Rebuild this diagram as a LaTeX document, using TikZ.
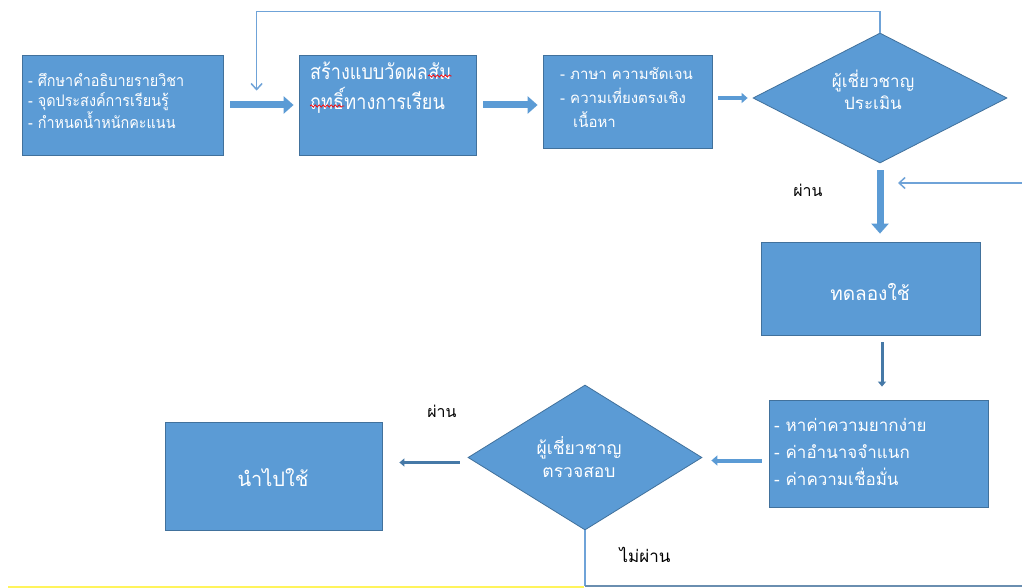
\documentclass[tikz,border=0pt]{standalone}
\usepackage{fontspec}
\newfontfamily\thai[Script=Thai]{Loma}
\newfontfamily\thainarrow[Script=Thai,FakeStretch=0.86]{Loma}
\newfontfamily\thaimid[Script=Thai,FakeStretch=0.9]{Loma}
\usetikzlibrary{shapes.geometric,arrows.meta,decorations.pathmorphing}
\definecolor{boxblue}{HTML}{5B9BD5}
\definecolor{boxedge}{HTML}{41719C}
\definecolor{lineblue}{HTML}{6FA3D8}
\definecolor{baseline}{HTML}{6A8EB0}
\definecolor{yell}{HTML}{FFF45C}
\begin{document}
\begin{tikzpicture}[x=1pt,y=-1pt,
  box/.style={draw=boxedge, line width=0.8pt, fill=boxblue, inner sep=0pt},
  dia/.style={diamond, draw=boxedge, line width=0.8pt, fill=boxblue, inner sep=0pt},
  wtxt/.style={text=white, inner sep=0pt},
  bigtxt/.style={wtxt, anchor=base west, font=\thainarrow\fontsize{21}{30}\selectfont},
  btxt/.style={text=black, inner sep=0pt, font=\thai\fontsize{16}{20}\selectfont},
  wave/.style={draw=red, line width=0.7pt, decorate, decoration={snake, segment length=4pt, amplitude=1.1pt}},
  barrow/.style={draw=boxblue, line width=7pt, -{Triangle[length=10pt,width=17pt]}},
  marrow/.style={draw=boxblue, line width=4pt, -{Triangle[length=6pt,width=10pt]}},
  sarrow/.style={draw=boxedge!80!boxblue, line width=3pt, -{Triangle[length=5pt,width=8pt]}},
  tarrow/.style={draw=lineblue, line width=1.5pt, -{Straight Barb[length=6pt,width=11pt]}},
  tline/.style={draw=lineblue, line width=1.5pt}]
\useasboundingbox[fill=white] (0,0) rectangle (1022,588);

% boxes
\node[box, minimum width=201, minimum height=100] (b1) at (122.5,105) {};
\node[box, minimum width=177, minimum height=100] (b2) at (387.5,105) {};
\node[box, minimum width=169, minimum height=93] (b3) at (627.5,101.5) {};
\node[dia, minimum width=254, minimum height=130] (d1) at (880,98) {};
\node[box, minimum width=219, minimum height=93] (b5) at (870.5,288.5) {};
\node[box, minimum width=219, minimum height=107] (b4) at (878.5,453.5) {};
\node[dia, minimum width=234, minimum height=145] (d2) at (585,457.5) {};
\node[box, minimum width=217, minimum height=108] (b6) at (273.5,476) {};

% texts
\node[wtxt, anchor=west, align=left, font=\thaimid\fontsize{16}{20.5}\selectfont] (t1) at (28,101)
  {- ศึกษาคำอธิบายรายวิชา\\- จุดประสงค์การเรียนรู้\\- กำหนดน้ำหนักคะแนน};
\node[bigtxt] (t2a) at (310,80) {สร้างแบบวัดผล};
\node[bigtxt] (t2b) at (t2a.base east) {สัม};
\node[bigtxt] (t2c) at (310,110) {ฤทธิ์};
\node[bigtxt] (t2d) at (t2c.base east) {ทางการเรียน};
\draw[wave] ([yshift=4]t2b.base west) -- ([yshift=4]t2b.base east);
\draw[wave] ([yshift=4]t2c.base west) -- ([yshift=4]t2c.base east);
\node[wtxt, anchor=west, align=left, font=\thai\fontsize{15}{24}\selectfont] (t3) at (560,98)
  {- ภาษา ความชัดเจน\\- ความเที่ยงตรงเชิง\\\hspace*{13pt}เนื้อหา};
\node[wtxt, align=center, font=\thai\fontsize{17}{22}\selectfont] (t4) at (873,90)
  {ผู้เชี่ยวชาญ\\ประเมิน};
\node[wtxt, font=\thai\fontsize{19}{22}\selectfont] (t5) at (870,292) {ทดลองใช้};
\node[wtxt, anchor=west, align=left, font=\thai\fontsize{17}{27}\selectfont] (t6) at (774,452)
  {- หาค่าความยากง่าย\\- ค่าอำนาจจำแนก\\- ค่าความเชื่อมั่น};
\node[wtxt, align=center, font=\thai\fontsize{17.5}{23}\selectfont] (t7) at (579,457)
  {ผู้เชี่ยวชาญ\\ตรวจสอบ};
\node[wtxt, font=\thai\fontsize{20}{22}\selectfont] (t8) at (273,478) {นำไปใช้};

% black labels
\node[btxt] (l1) at (808,190) {ผ่าน};
\node[btxt] (l2) at (442,411) {ผ่าน};
\node[btxt, font=\thai\fontsize{17}{20}\selectfont] (l3) at (645,555) {ไม่ผ่าน};

% connectors
\draw[barrow] ([xshift=7]b1.east) -- ([xshift=-5]b1.east -| b2.west);
\draw[barrow] ([xshift=7]b2.east) -- ([xshift=-5]b2.east -| b3.west);
\draw[marrow] ([xshift=6]b3.east |- d1.west) -- ([xshift=-5]d1.west);
\draw[barrow] ([yshift=-7]d1.south) -- ([yshift=8]d1.south |- b5.north);
\draw[sarrow] ([xshift=11.5,yshift=-7]b5.south) -- ([xshift=11.5,yshift=13]b5.south |- b4.north);
\draw[marrow] ([xshift=-7,yshift=-7]b4.west) -- ([xshift=9,yshift=-3]d2.east);
\draw[sarrow] ([xshift=-8,yshift=-5]d2.west) -- ([xshift=17,yshift=-5]d2.west -| b6.east);

% feedback lines
\draw[tarrow] (d1.north) -- ++(0,-21) -| ([xshift=-42,yshift=-36]b2.north west);
\coordinate (r1) at (1022,183);
\draw[tarrow] (r1) -- ([xshift=18]d1.south |- r1);
\coordinate (r2) at (1022,586);
\draw[tline] (d2.south) -- (d2.south |- r2);
\draw[draw=baseline, line width=2pt] (d2.south |- r2) -- (r2);
\coordinate (y1) at (8,587);
\draw[draw=yell, line width=2pt] (y1) -- ([xshift=-1]d2.south |- y1);
\end{tikzpicture}
\end{document}
